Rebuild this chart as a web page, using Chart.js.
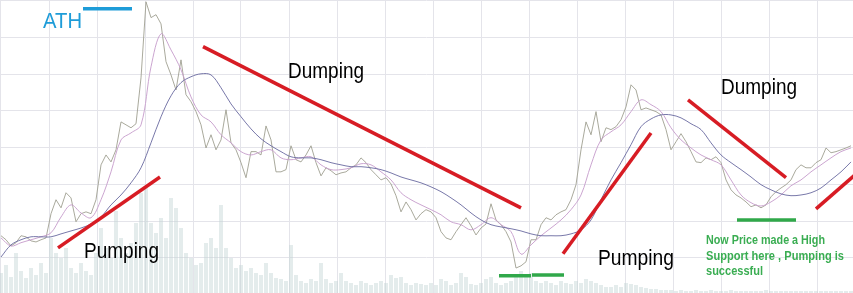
<!DOCTYPE html>
<html>
<head>
<meta charset="utf-8">
<script src="https://cdn.jsdelivr.net/npm/chart.js@4.4.1/dist/chart.umd.min.js"></script>
<style>
  html, body { margin: 0; padding: 0; background: #fff; }
  #wrap { width: 853px; height: 293px; }
</style>
</head>
<body>
<div id="wrap"><canvas id="priceChart" width="853" height="293"></canvas></div>
<script>
// price samples, one every 3 days
const PRICE_STEP = 3;
const price = [
  1.60,1.49,1.32,1.41,1.60,1.57,1.46,1.43,1.49,1.54,
  2.20,2.58,2.36,2.77,2.63,1.98,2.20,2.25,2.20,2.58,
  3.53,3.80,3.61,3.94,4.70,4.62,4.54,4.65,5.90,7.97,
  7.54,7.62,7.37,6.34,5.98,5.57,6.39,5.44,5.25,4.98,
  4.62,3.99,4.35,3.94,4.21,5.03,4.13,3.94,3.59,3.18,
  3.89,3.89,3.80,4.59,4.21,3.34,3.34,3.40,4.05,3.67,
  3.61,3.80,4.05,3.59,3.23,3.45,3.37,3.26,3.31,3.34,
  3.45,3.53,3.72,3.59,3.40,3.26,3.12,3.18,3.01,2.69,
  2.25,2.52,2.31,2.03,2.20,2.31,2.25,2.09,1.71,1.54,
  1.49,1.71,1.90,2.09,1.87,1.62,1.81,1.92,2.47,2.03,
  1.90,1.71,1.43,0.72,0.78,0.89,1.49,1.49,1.90,2.09,
  2.03,2.17,2.25,2.31,2.58,2.99,3.94,4.70,4.35,4.98,
  4.16,4.54,4.49,4.57,4.76,5.11,5.71,5.57,5.03,5.08,
  5.03,4.98,4.89,4.49,3.94,4.16,4.38,4.16,3.89,3.61,
  3.59,3.72,3.67,3.75,3.59,3.12,2.85,2.71,2.63,2.52,
  2.39,2.44,2.36,2.44,2.66,2.80,2.90,2.99,3.12,3.40,
  3.53,3.45,3.45,3.59,3.67,3.99,3.86,3.89,3.94,3.99,
  4.05
];

// volume samples, same spacing as price
const volume = [
  20,28,16,40,22,15,25,18,30,20,
  55,40,35,45,25,20,30,22,18,40,
  65,45,35,82,55,40,50,70,100,105,
  70,60,75,55,95,85,65,40,35,28,
  30,50,55,45,88,45,35,25,28,22,
  25,20,18,30,20,15,14,12,48,18,
  12,10,14,12,30,14,10,12,20,12,
  10,8,12,10,8,10,12,10,18,15,
  16,10,8,10,9,8,10,8,14,12,
  8,10,20,16,9,8,10,14,16,10,
  8,10,12,16,22,18,20,12,10,12,
  10,8,12,10,9,12,10,14,12,10,
  8,6,6,8,6,10,9,8,6,5,
  4,4,3,3,3,2,3,2,2,3,
  2,2,3,2,2,2,3,2,2,2,
  2,2,2,3,2,2,2,2,2,2,
  2,2,2,2,2,2,2,2,2,2,
  2
];

// moving averages, one sample every 6 days
const MA_STEP = 6;
const maFast = [
  1.54,1.32,1.41,1.49,1.57,1.68,2.11,2.44,2.22,2.09,
  2.58,3.34,4.21,4.40,4.62,6.20,7.10,6.66,6.12,5.38,
  4.89,4.70,4.35,4.13,3.89,3.80,3.89,3.94,3.72,3.67,
  3.72,3.75,3.53,3.40,3.40,3.45,3.56,3.53,3.34,3.12,
  2.77,2.58,2.44,2.31,2.17,1.98,1.90,1.76,1.90,2.09,
  1.90,1.71,1.10,1.35,1.60,1.81,2.03,2.31,2.71,3.53,
  4.21,4.43,4.62,4.98,5.30,5.17,4.98,4.54,4.21,3.99,
  3.80,3.67,3.53,3.12,2.71,2.50,2.41,2.52,2.71,2.96,
  3.12,3.34,3.53,3.72,3.89,3.99
];
const maSlow = [
  1.02,1.35,1.49,1.57,1.57,1.57,1.65,1.73,1.81,1.92,
  2.11,2.44,2.71,3.04,3.45,4.13,4.84,5.41,5.77,5.93,
  6.01,5.98,5.63,5.19,4.84,4.51,4.24,4.05,3.89,3.75,
  3.72,3.72,3.67,3.59,3.53,3.48,3.48,3.45,3.40,3.31,
  3.20,3.12,3.04,2.93,2.80,2.63,2.44,2.22,2.03,1.90,
  1.84,1.79,1.73,1.65,1.60,1.60,1.60,1.65,1.76,2.03,
  2.58,3.12,3.59,4.08,4.57,4.78,4.89,4.89,4.81,4.65,
  4.49,4.13,3.80,3.59,3.40,3.20,2.99,2.85,2.74,2.69,
  2.71,2.77,2.90,3.12,3.34,3.61
];

// hand drawn marks: [day, price] pairs
const redTrendLines = [
  [[34.2, 1.27], [95.4, 3.20]],
  [[121.2, 6.75], [312.0, 2.36]],
  [[337.2, 1.11], [390.0, 4.40]],
  [[412.2, 5.30], [471.0, 3.18]],
  [[489.0, 2.33], [516.0, 3.40]]
];
const greenSupportLines = [
  [[298.8, 0.51], [318.0, 0.51]],
  [[318.6, 0.53], [337.8, 0.53]],
  [[441.6, 2.03], [477.0, 2.03]]
];
const athLine = [[49.2, 7.78], [78.6, 7.78]];

const noteLabels = [
  { text: 'ATH', day: 25.2, value: 7.26, color: '#1e9cd8', font: '22px "Liberation Sans", Arial', width: 39 },
  { text: 'Dumping', day: 172.2, value: 5.90, color: '#000', font: '22px "Liberation Sans", Arial', width: 76 },
  { text: 'Pumping', day: 49.8, value: 1.00, color: '#000', font: '22px "Liberation Sans", Arial', width: 75 },
  { text: 'Pumping', day: 358.2, value: 0.81, color: '#000', font: '22px "Liberation Sans", Arial', width: 76 },
  { text: 'Dumping', day: 432.0, value: 5.47, color: '#000', font: '22px "Liberation Sans", Arial', width: 76 },
  { text: 'Now Price made a High', day: 423.0, value: 1.38, color: '#3aad52', font: 'bold 13px "Liberation Sans", Arial', width: 119 },
  { text: 'Support here , Pumping is', day: 423.0, value: 0.94, color: '#3aad52', font: 'bold 13px "Liberation Sans", Arial', width: 138 },
  { text: 'successful', day: 423.0, value: 0.53, color: '#3aad52', font: 'bold 13px "Liberation Sans", Arial', width: 57 }
];

const GRID_DAYS = 28.8;

function toPoints(values, step) {
  return values.map((v, i) => ({ x: i * step, y: v }));
}
function segment(pair, color, width) {
  return {
    type: 'line',
    data: pair.map(p => ({ x: p[0], y: p[1] })),
    borderColor: color,
    borderWidth: width,
    pointRadius: 0,
    borderCapStyle: 'butt',
    order: 1
  };
}

const labelPlugin = {
  id: 'noteLabels',
  afterDatasetsDraw(chart) {
    const { ctx, scales: { x, y } } = chart;
    ctx.save();
    ctx.textBaseline = 'alphabetic';
    noteLabels.forEach(l => {
      ctx.font = l.font;
      ctx.fillStyle = l.color;
      ctx.fillText(l.text, x.getPixelForValue(l.day), y.getPixelForValue(l.value), l.width);
    });
    ctx.restore();
  }
};

const datasets = [
  {
    type: 'bar',
    data: toPoints(volume, PRICE_STEP),
    yAxisID: 'vol',
    backgroundColor: 'rgba(196,212,212,0.45)',
    barPercentage: 0.8,
    categoryPercentage: 1,
    order: 10
  },
  {
    type: 'line',
    data: toPoints(price, PRICE_STEP),
    borderColor: 'rgba(160,160,145,0.9)',
    borderWidth: 1,
    pointRadius: 0,
    tension: 0,
    order: 5
  },
  {
    type: 'line',
    data: toPoints(maFast, MA_STEP),
    borderColor: 'rgba(200,160,205,0.95)',
    borderWidth: 1,
    pointRadius: 0,
    tension: 0.35,
    order: 4
  },
  {
    type: 'line',
    data: toPoints(maSlow, MA_STEP),
    borderColor: 'rgba(105,105,160,0.9)',
    borderWidth: 1,
    pointRadius: 0,
    tension: 0.35,
    order: 3
  }
];
redTrendLines.forEach(p => datasets.push(segment(p, '#d71c24', 3.5)));
greenSupportLines.forEach(p => datasets.push(segment(p, '#30a84a', 3.5)));
datasets.push(segment(athLine, '#1e9cd8', 3.5));

const gridColor = '#e4e4ea';

new Chart(document.getElementById('priceChart'), {
  type: 'line',
  data: { datasets: datasets },
  options: {
    responsive: false,
    animation: false,
    devicePixelRatio: 1,
    layout: { padding: 0 },
    plugins: { legend: { display: false }, tooltip: { enabled: false } },
    scales: {
      x: {
        type: 'linear',
        offset: false,
        min: -0.6,
        max: 511.2,
        ticks: { display: false, stepSize: GRID_DAYS, includeBounds: false },
        grid: { color: gridColor, drawTicks: false, offset: false },
        border: { display: false },
        afterBuildTicks: s => {
          s.ticks = s.ticks.filter(t => t.value >= 0 && Math.abs(t.value / GRID_DAYS - Math.round(t.value / GRID_DAYS)) < 1e-6);
        }
      },
      y: {
        min: 0.04,
        max: 8.02,
        ticks: { display: false, stepSize: 1, includeBounds: false },
        grid: { color: gridColor, drawTicks: false },
        border: { display: false },
        afterBuildTicks: s => { s.ticks = s.ticks.filter(t => Math.abs(t.value - Math.round(t.value)) < 1e-6); }
      },
      vol: {
        position: 'right',
        min: 0,
        max: 293,
        display: false
      }
    }
  },
  plugins: [labelPlugin]
});
</script>
</body>
</html>
